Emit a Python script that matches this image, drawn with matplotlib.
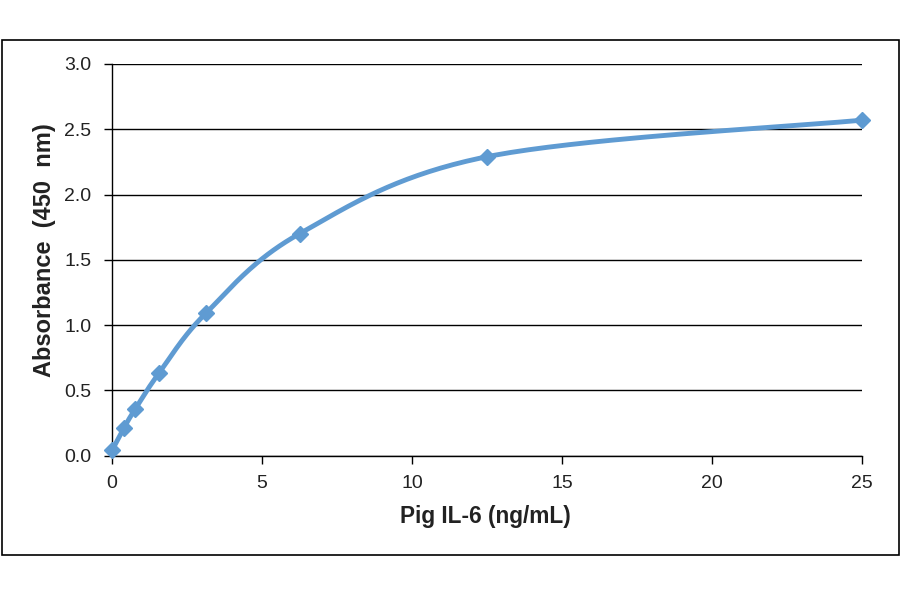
import numpy as np
import matplotlib
matplotlib.use("Agg")
import matplotlib.pyplot as plt
from matplotlib.patches import Rectangle

# Data
conc = [0.0, 0.39, 0.78, 1.56, 3.125, 6.25, 12.5, 25.0]
absorb = [0.04, 0.21, 0.36, 0.63, 1.09, 1.70, 2.29, 2.57]
x_ticks = [0, 5, 10, 15, 20, 25]
y_ticks = [0.0, 0.5, 1.0, 1.5, 2.0, 2.5, 3.0]
x_label = "Pig IL-6 (ng/mL)"
y_label = "Absorbance  (450  nm)"

plt.rcParams['font.family'] = ['Liberation Sans', 'DejaVu Sans']

W, H = 900, 594
fig = plt.figure(figsize=(W / 100, H / 100), dpi=100)
ax = fig.add_axes([112 / W, (H - 455.7) / H, (862 - 112) / W, (455.7 - 64) / H])

# Smoothed line (Bezier / Catmull-Rom style, like a spreadsheet smoothed line)
def smooth(xs, ys, n=40):
    P = np.column_stack([xs, ys]).astype(float)
    sx, sy = 30.0, 130.0
    Q = P * [sx, sy]
    pts = np.array([Q[0]] + list(Q) + [Q[-1]])
    out = []
    for i in range(1, len(pts) - 2):
        p0, p1, p2, p3 = pts[i - 1], pts[i], pts[i + 1], pts[i + 2]
        c1 = p1 + (p2 - p0) / 6.0
        c2 = p2 - (p3 - p1) / 6.0
        t = np.linspace(0, 1, n)[:, None]
        b = ((1 - t) ** 3) * p1 + 3 * ((1 - t) ** 2) * t * c1 + 3 * (1 - t) * t ** 2 * c2 + t ** 3 * p2
        out.append(b if i == 1 else b[1:])
    C = np.vstack(out) / [sx, sy]
    return C[:, 0], C[:, 1]

cx, cy = smooth(conc, absorb)
color = '#5F9BD2'
ax.plot(cx, cy, color=color, lw=3.5, solid_capstyle='round', zorder=3, clip_on=False)
ax.plot(conc, absorb, linestyle='none', marker='D', markersize=8.5, color=color,
        markeredgecolor=color, zorder=4, clip_on=False)

ax.set_xlim(0, 25)
ax.set_ylim(0, 3.0)
ax.set_xticks(x_ticks)
ax.set_yticks(y_ticks)
ax.set_yticklabels([f"{v:.1f}" for v in y_ticks])
ax.yaxis.grid(True, color='black', lw=1.0)
ax.set_axisbelow(True)
for s in ['top', 'right']:
    ax.spines[s].set_visible(False)
for s in ['left', 'bottom']:
    ax.spines[s].set_color('black')
    ax.spines[s].set_linewidth(1.0)
ax.tick_params(axis='y', length=6, width=1.0, pad=9, labelsize=14, colors='#222222')
ax.tick_params(axis='x', length=5.5, width=1.0, pad=8.5, labelsize=14, colors='#222222')
ax.tick_params(axis='both', color='black')

fig.text(485.5 / W, 1 - 517 / H, x_label, ha='center', va='center', fontsize=16.3,
         fontweight='bold', color='#222222')
fig.text(45 / W, 1 - 250 / H, y_label, ha='center', va='center', rotation=90,
         fontsize=17, fontweight='bold', color='#222222')

# outer border
fig.patches.append(Rectangle((1.5 / W, (H - 555) / H), 897 / W, 515 / H,
                             transform=fig.transFigure, fill=False,
                             edgecolor='black', lw=1.2))

fig.savefig('out.png', dpi=100, facecolor='white')
